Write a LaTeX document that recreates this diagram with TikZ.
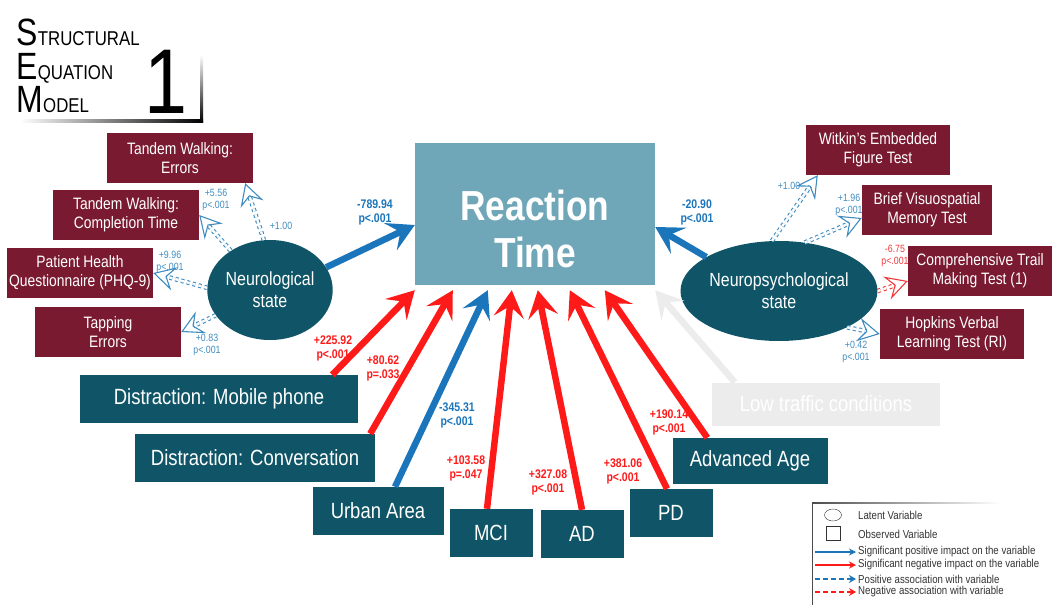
\documentclass[tikz,border=0pt]{standalone}
\usepackage{fontspec}
\setmainfont{Liberation Sans}[FakeStretch=0.84]
\usetikzlibrary{arrows.meta,shapes.geometric}
\definecolor{rtbox}{HTML}{6FA7B9}
\definecolor{varteal}{HTML}{0F5567}
\definecolor{obsred}{HTML}{7A1A30}
\definecolor{impblue}{HTML}{1B75BB}
\definecolor{impred}{HTML}{FF1A1A}
\definecolor{assblue}{HTML}{3F8CC0}
\definecolor{assred}{HTML}{F03A3A}
\definecolor{lowgray}{HTML}{ECECEC}
\tikzset{
  latent/.style={ellipse,fill=varteal,text=white,align=center,inner sep=0pt,font=\fontsize{19}{22}\selectfont},
  obs/.style={fill=obsred,text=white,align=center,minimum height=50pt,inner sep=1pt,font=\fontsize{16.5}{19}\selectfont},
  var/.style={fill=varteal,text=white,minimum height=48pt,font=\fontsize{22}{24}\selectfont},
  posimp/.style={draw=impblue,line width=6.5pt,-{Stealth[length=27pt,width=30pt,inset=11pt]}},
  negimp/.style={posimp,draw=impred},
  posassoc/.style={draw=assblue,dashed,line width=1.1pt,double distance=2.4pt,-{Stealth[open,length=22pt,width=24pt,inset=8pt]}},
  negassoc/.style={posassoc,draw=assred},
  coef/.style={align=center,font=\bfseries\fontsize{12.5}{14}\selectfont,inner sep=0pt},
  acoef/.style={align=center,font=\fontsize{10.5}{12}\selectfont,inner sep=0pt,text=assblue},
  bigcap/.style={anchor=base west,inner sep=0pt,text height=28pt,text depth=0pt,font=\fontsize{38}{38}\selectfont},
  smallcap/.style={anchor=base west,inner sep=0pt,font=\fontsize{20}{20}\selectfont},
  legtxt/.style={anchor=west,text=black!80,font=\fontsize{11.5}{12}\selectfont,inner sep=0pt}
}

\begin{document}
\begin{tikzpicture}[x=1pt,y=-1pt]
    \useasboundingbox (0,0) rectangle (1058,605);

    % title
    \node [bigcap] (ts) at (16,45) {S};
    \node [smallcap] at (ts.base east) {TRUCTURAL};
    \node [bigcap] (te) at (16,79) {E};
    \node [smallcap] at (te.base east) {QUATION};
    \node [bigcap] (tm) at (16,112) {M};
    \node [smallcap] at (tm.base east) {ODEL};
    \node [anchor=base,inner sep=0pt,font=\fontsize{92}{92}\selectfont] at (166,113) {1};
    \shade [left color=white,right color=black] (20,119) rectangle (203,122);
    \shade [top color=white,bottom color=black] (200,55) rectangle (203,122);

    % central outcome
    \node [fill=rtbox,minimum width=240pt,minimum height=142pt] (rt) at (535,214) {};
    \node [text=white,align=center,font=\bfseries\fontsize{42}{47}\selectfont] at (535,229) {Reaction\\Time};

    % latent variables
    \node [latent,minimum width=125pt,minimum height=100pt] (nl) at (270,290) {Neurological\\state};
    \node [latent,minimum width=154pt,minimum height=100pt] (np) at (779,291) {Neuropsychological\\state};

    % indicators
    \node [obs,minimum width=146pt] (twe) at (180,158) {Tandem Walking:\\Errors};
    \node [obs,minimum width=146pt] (twc) at (126,215) {Tandem Walking:\\Completion Time};
    \node [obs,minimum width=146pt] (phq) at (80,273) {Patient Health\\Questionnaire (PHQ-9)};
    \node [obs,minimum width=146pt] (tap) at (108,332) {Tapping\\Errors};
    \node [obs,minimum width=144pt] (wef) at (878,150) {Witkin’s Embedded\\Figure Test};
    \node [obs,minimum width=130pt] (bvm) at (927,210) {Brief Visuospatial\\Memory Test};
    \node [obs,minimum width=144pt] (ctm) at (980,271) {Comprehensive Trail\\Making Test (1)};
    \node [obs,minimum width=144pt] (hvl) at (952,334) {Hopkins Verbal\\Learning Test (RI)};

    % predictors
    \node [var,minimum width=278pt] (mob) at (219,399) {Distraction: Mobile phone};
    \node [var,minimum width=240pt] (conv) at (255,458) {Distraction: Conversation};
    \node [var,minimum width=131pt] (urb) at (378,511) {Urban Area};
    \node [var,minimum width=83pt] (mci) at (491,533) {MCI};
    \node [var,minimum width=83pt] (ad) at (582,534) {AD};
    \node [var,minimum width=83pt] (pd) at (671,513) {PD};
    \node [var,minimum width=155pt,minimum height=46pt] (age) at (750,461) {Advanced Age};
    \node [var,fill=lowgray,text=white,minimum width=228pt,minimum height=43pt] (low) at (826,404) {Low traffic conditions};

    % impacts on reaction time
    \draw [posimp] (nl.22) -- ([yshift=-11pt]rt.west);
    \draw [posimp] (np.155) -- ([yshift=-13pt]rt.east);
    \draw [negimp] ([xshift=-26pt]mob.north east) -- ([yshift=-5pt]rt.south west);
    \draw [negimp] ([xshift=-5pt]conv.north east) -- ([xshift=38pt,yshift=-5pt]rt.south west);
    \draw [posimp] ([xshift=17pt]urb.north) -- ([xshift=73pt,yshift=-5pt]rt.south west);
    \draw [negimp] ([xshift=-4pt]mci.north) -- ([xshift=97pt,yshift=-5pt]rt.south west);
    \draw [negimp] (ad.north) -- ([xshift=123pt,yshift=-5pt]rt.south west);
    \draw [negimp] ([xshift=-4pt]pd.north) -- ([xshift=155pt,yshift=-5pt]rt.south west);
    \draw [negimp] ([xshift=35pt]age.north west) -- ([xshift=190pt,yshift=-5pt]rt.south west);
    \draw [posimp,draw=lowgray] ([xshift=23pt]low.north west) -- ([yshift=-5pt]rt.south east);

    \node [coef,text=impblue] at (375,212) {-789.94\\p<.001};
    \node [coef,text=impblue] at (697,212) {-20.90\\p<.001};
    \node [coef,text=impred] at (333,348) {+225.92\\p<.001};
    \node [coef,text=impred] at (383,368) {+80.62\\p=.033};
    \node [coef,text=impblue] at (457,415) {-345.31\\p<.001};
    \node [coef,text=impred] at (466,468) {+103.58\\p=.047};
    \node [coef,text=impred] at (548,482) {+327.08\\p<.001};
    \node [coef,text=impred] at (623,471) {+381.06\\p<.001};
    \node [coef,text=impred] at (669,422) {+190.14\\p<.001};

    % associations
    \draw [posassoc] (nl.97) -- ([xshift=-8pt]twe.south east);
    \draw [posassoc] (nl.135) -- (twc.east);
    \draw [posassoc] (nl.178) -- (phq.east);
    \draw [posassoc] (nl.205) -- (tap.east);
    \draw [posassoc] (np.98) -- ([xshift=12pt]wef.south west);
    \draw [posassoc] (np.62) -- ([yshift=-8pt]bvm.west);
    \draw [negassoc] (np.east) -- ([yshift=-10pt]ctm.west);
    \draw [posassoc] (np.-28) -- (hvl.west);

    \node [acoef] at (216,200) {+5.56\\p<.001};
    \node [acoef] at (281,226) {+1.00};
    \node [acoef] at (170,262) {+9.96\\p<.001};
    \node [acoef] at (207,345) {+0.83\\p<.001};
    \node [acoef] at (789,186) {+1.00};
    \node [acoef] at (849,205) {+1.96\\p<.001};
    \node [acoef,text=assred] at (895,256) {-6.75\\p<.001};
    \node [acoef] at (856,352) {+0.42\\p<.001};

    % legend
    \shade [left color=black!70,right color=white] (812,502) rectangle (1000,503.5);
    \draw [black!70,line width=1.2pt] (812.6,502) -- (812.6,605);
    \node [draw=black!80,ellipse,minimum width=17pt,minimum height=12pt,inner sep=0pt] (lat) at (833,515) {};
    \node [draw=black!80,minimum width=14pt,minimum height=14pt,inner sep=0pt] (sq) at (833,533) {};
    \node [legtxt] at (858,515) {Latent Variable};
    \node [legtxt] at (858,534) {Observed Variable};
    \coordinate (l1a) at (815,552); \coordinate (l1b) at (856,552);
    \coordinate (l2a) at (815,565); \coordinate (l2b) at (856,565);
    \coordinate (l3a) at (815,579); \coordinate (l3b) at (856,579);
    \coordinate (l4a) at (815,592); \coordinate (l4b) at (856,592);
    \draw [impblue,line width=1.2pt,-{Stealth[length=7pt,width=7pt]}] (l1a) -- (l1b);
    \draw [impred,line width=1.2pt,-{Stealth[length=7pt,width=7pt]}] (l2a) -- (l2b);
    \draw [impblue,line width=1.6pt,dash pattern=on 5pt off 3pt,-{Stealth[length=7pt,width=8pt]}] (l3a) -- (l3b);
    \draw [impred,line width=1.6pt,dash pattern=on 5pt off 3pt,-{Stealth[length=7pt,width=8pt]}] (l4a) -- (l4b);
    \node [legtxt] at (858,552) {Significant positive impact on the variable};
    \node [legtxt] at (858,565) {Significant negative impact on the variable};
    \node [legtxt] at (858,579) {Positive association with variable};
    \node [legtxt] at (858,592) {Negative association with variable};
\end{tikzpicture}
\end{document}
